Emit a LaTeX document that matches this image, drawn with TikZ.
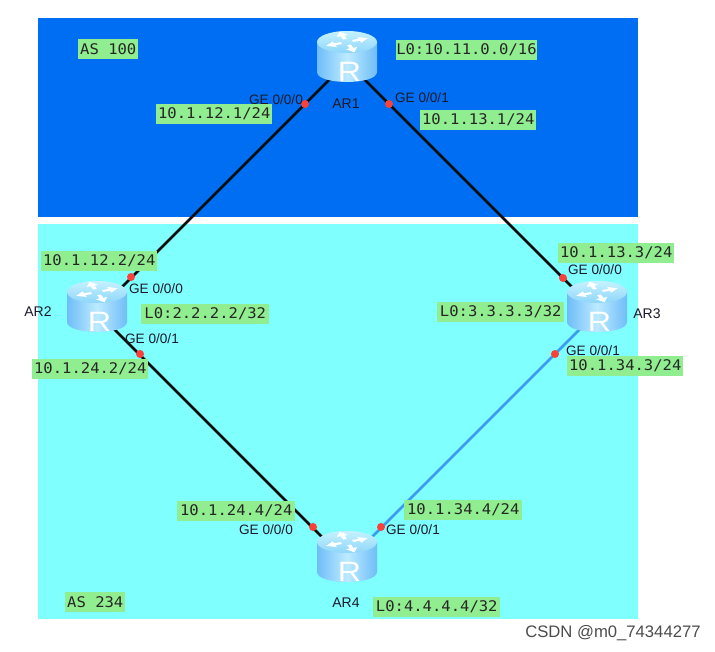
\documentclass[tikz,border=0pt]{standalone}
\usepackage{fontspec}
\setmainfont{Liberation Sans}
\newfontfamily\lblfont[FakeStretch=1.06]{DejaVu Sans Mono}
\usetikzlibrary{shapes.geometric}
\pgfdeclarelayer{zones}
\pgfdeclarelayer{links}
\pgfsetlayers{zones,links,main}
\definecolor{asblue}{HTML}{006EF2}
\definecolor{ascyan}{HTML}{80FFFF}
\definecolor{lblgreen}{HTML}{90EE90}
\definecolor{lnkblue}{HTML}{3A9BF0}
\definecolor{dotred}{HTML}{F8413A}
\definecolor{txt}{HTML}{1A1A2A}
\definecolor{rside}{HTML}{6FBDF8}
\definecolor{rmid}{HTML}{BDEBFF}
\definecolor{rtop}{HTML}{C4F2FF}
\definecolor{rtopb}{HTML}{8FD6FA}
\tikzset{
  x=0.75pt,y=-0.75pt,
  addr/.style={fill=lblgreen,inner sep=0pt,minimum height=15pt,font=\lblfont\fontsize{11}{13}\selectfont,text=black!85,anchor=west},
  port/.style={font=\fontsize{10.2}{12}\selectfont,text=txt,inner sep=0pt},
  devname/.style={font=\fontsize{10.5}{12}\selectfont,text=txt,inner sep=0pt},
  dot/.style={circle,fill=dotred,inner sep=0pt,minimum size=6pt},
  wire/.style={line width=2pt,black!95},
  wirelt/.style={line width=2pt,lnkblue},
}
% router: cylinder whose node centre is the connector end
\newcommand{\routerpic}[3]{%
  \begin{scope}[shift={(#2,#3)}]
    \shade[left color=rside,right color=rside,middle color=rmid]
      (-30,-20) -- (-30,10) .. controls (-30,23.3) and (30,23.3) .. (30,10) -- (30,-20) -- cycle;
    \shade[top color=rtop,bottom color=rtopb]
      (0,-20) ellipse[x radius=30,y radius=11];
    \foreach \a in {20,110,200,290}{
      \fill[white,shift={(0,-20)},yscale=0.5,rotate=\a]
        (-2,-6) -- (2,-6) -- (2,-13) -- (6,-13) -- (0,-22) -- (-6,-13) -- (-2,-13) -- cycle;
    }
    \node[inner sep=0pt,minimum width=45pt,minimum height=37.5pt] (#1) at (0,0) {};
    \node[inner sep=0pt,text=white,xscale=1.15,font=\fontsize{21}{21}\selectfont] (#1r) at (2.5,10) {R};
  \end{scope}
}
\begin{document}
\begin{tikzpicture}
\useasboundingbox (0,0) rectangle (715,651);
\begin{pgfonlayer}{zones}
  \fill[white] (0,0) rectangle (715,651);
  \fill[asblue] (38,18) rectangle (638,217);
  \fill[ascyan] (38,224) rectangle (638,619);
\end{pgfonlayer}
\routerpic{ar1}{347}{62}
\routerpic{ar2}{97}{312}
\routerpic{ar3}{597}{312}
\routerpic{ar4}{347}{562}
\begin{pgfonlayer}{links}
  \draw[wire] (ar1.center) -- (ar2.center);
  \draw[wire] (ar1.center) -- (ar3.center);
  \draw[wire] (ar2.center) -- (ar4.center);
  \draw[wirelt] (ar3.center) -- (ar4.center);
\end{pgfonlayer}
\node[dot] (d1) at (305,104) {};
\node[dot] (d2) at (389,104) {};
\node[dot] (d3) at (131,277) {};
\node[dot] (d4) at (140,354) {};
\node[dot] (d5) at (563,278) {};
\node[dot] (d6) at (555,354) {};
\node[dot] (d7) at (313,527) {};
\node[dot] (d8) at (381,527) {};
\node[devname] (n1) at (346,104) {AR1};
\node[devname] (n2) at (38,312) {AR2};
\node[devname] (n3) at (647,314) {AR3};
\node[devname] (n4) at (346,603) {AR4};
\node[port] (p1) at (276,100) {GE 0/0/0};
\node[port] (p2) at (422,98) {GE 0/0/1};
\node[port] (p3) at (156,289) {GE 0/0/0};
\node[port] (p4) at (152,339) {GE 0/0/1};
\node[port] (p5) at (595,270) {GE 0/0/0};
\node[port] (p6) at (593,351) {GE 0/0/1};
\node[port] (p7) at (266,530) {GE 0/0/0};
\node[port] (p8) at (413,530) {GE 0/0/1};
\node[addr,minimum width=45pt] (a1) at (78,49) {AS 100};
\node[addr,minimum width=45pt] (a2) at (65,602) {AS 234};
\node[addr,minimum width=105pt] (l1) at (396,50) {L0:10.11.0.0/16};
\node[addr,minimum width=87pt] (i1) at (156,114) {10.1.12.1/24};
\node[addr,minimum width=87pt] (i2) at (420,120) {10.1.13.1/24};
\node[addr,minimum width=87pt] (i3) at (41,261) {10.1.12.2/24};
\node[addr,minimum width=96pt] (l2) at (141,314) {L0:2.2.2.2/32};
\node[addr,minimum width=87pt] (i4) at (32,369) {10.1.24.2/24};
\node[addr,minimum width=87pt] (i5) at (558,253) {10.1.13.3/24};
\node[addr,minimum width=95.25pt] (l3) at (437,312) {L0:3.3.3.3/32};
\node[addr,minimum width=87pt] (i6) at (567,366) {10.1.34.3/24};
\node[addr,minimum width=88.5pt] (i7) at (177,511) {10.1.24.4/24};
\node[addr,minimum width=88.5pt] (i8) at (404,510) {10.1.34.4/24};
\node[addr,minimum width=95.25pt] (l4) at (373,607) {L0:4.4.4.4/32};
\node[font=\fontsize{12.5}{14}\selectfont,text=black!70,inner sep=0pt,anchor=west] (wm) at (525,633) {CSDN @m0\_74344277};
\end{tikzpicture}
\end{document}
